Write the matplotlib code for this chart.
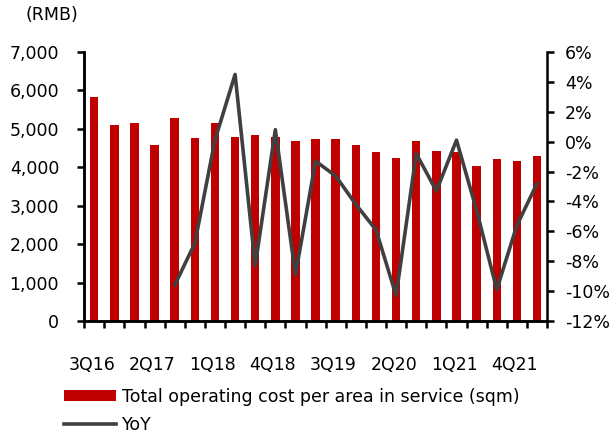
import numpy as np
import matplotlib.pyplot as plt
from matplotlib.patches import Patch
from matplotlib.lines import Line2D

plt.rcParams['font.family'] = ['DejaVu Sans']

quarters = ['3Q16', '4Q16', '1Q17', '2Q17', '3Q17', '4Q17', '1Q18', '2Q18',
            '3Q18', '4Q18', '1Q19', '2Q19', '3Q19', '4Q19', '1Q20', '2Q20',
            '3Q20', '4Q20', '1Q21', '2Q21', '3Q21', '4Q21', '1Q22']
cost = [5840, 5090, 5150, 4580, 5270, 4750, 5140, 4790, 4840, 4780, 4680, 4730,
        4730, 4580, 4400, 4240, 4680, 4430, 4400, 4030, 4220, 4170, 4290]
# YoY starts in 3Q17 (first quarter with a year-earlier comparison)
yoy = [None, None, None, None, -9.6, -6.8, 0.1, 4.5, -8.3, 0.8, -8.9, -1.3,
       -2.3, -4.2, -5.9, -10.3, -0.8, -3.3, 0.1, -4.6, -9.9, -5.6, -2.8]

bar_color = '#C00000'
line_color = '#404040'
fs = 12.5

fig = plt.figure(figsize=(6.14, 4.34), dpi=100)
ax = fig.add_axes([0.137, 0.2604, 0.754, 0.6198])
x = np.arange(len(quarters))

ax.bar(x, cost, width=0.42, color=bar_color, zorder=2)
ax.set_xlim(-0.5, len(quarters) - 0.5)
ax.set_ylim(0, 7000)
ax.set_yticks(np.arange(0, 7001, 1000))
ax.set_yticklabels([f'{v:,}' for v in range(0, 7001, 1000)], fontsize=fs)

# tick marks at category boundaries, labels every third quarter
ax.set_xticks(np.arange(-0.5, len(quarters), 1.0))
ax.set_xticklabels([])
ax.set_xticks(x[::3] - 0.12, minor=True)
ax.set_xticklabels(quarters[::3], minor=True, fontsize=fs)
ax.tick_params(axis='x', which='major', direction='out', length=5, width=1.8)
ax.tick_params(axis='x', which='minor', length=0, pad=25)
ax.tick_params(axis='y', direction='out', length=5, width=1.8, pad=13)

ax2 = ax.twinx()
yoy_x = [i for i, v in enumerate(yoy) if v is not None]
yoy_y = [v for v in yoy if v is not None]
ax2.plot(yoy_x, yoy_y, color=line_color, linewidth=2.6, zorder=3)
ax2.set_ylim(-12, 6)
ax2.set_yticks(np.arange(-12, 7, 2))
ax2.set_yticklabels([f'{v}%' for v in range(-12, 7, 2)], fontsize=fs)
ax2.tick_params(axis='y', direction='out', length=5, width=1.8, pad=8)

for a in (ax, ax2):
    a.spines['top'].set_visible(False)
    for s in ('left', 'right', 'bottom'):
        a.spines[s].set_linewidth(1.8)
ax.spines['right'].set_visible(False)

fig.text(0.042, 0.965, '(RMB)', fontsize=fs, va='center', ha='left')

handles = [Patch(facecolor=bar_color, edgecolor='none'),
           Line2D([0], [0], color=line_color, linewidth=2.6)]
labels = ['Total operating cost per area in service (sqm)', 'YoY']
fig.legend(handles, labels, loc='lower left', bbox_to_anchor=(0.085, -0.028),
           frameon=False, fontsize=fs, handlelength=3.0, handleheight=0.6,
           handletextpad=0.3, labelspacing=0.58, borderpad=0.2)

fig.savefig('out.png', dpi=100)
